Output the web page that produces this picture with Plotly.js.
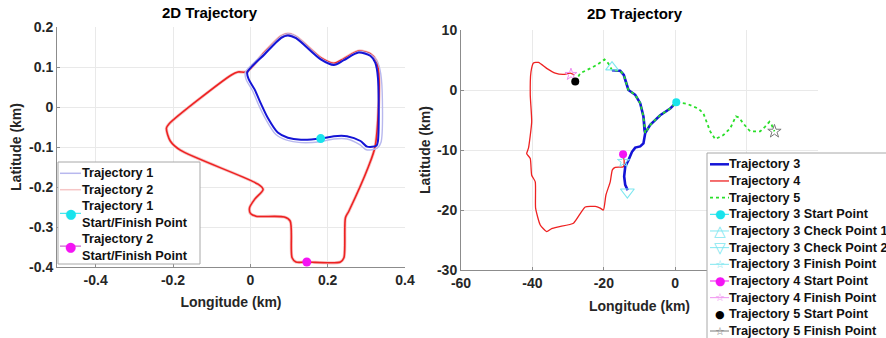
<!DOCTYPE html>
<html><head><meta charset="utf-8">
<script src="https://cdn.plot.ly/plotly-3.0.1.min.js"></script>
<style>html,body{margin:0;padding:0;background:#fff;} #chart{width:886px;height:338px;}</style>
</head><body><div id="chart"></div>
<script>
// ---------- Left panel data (km) ----------
const traj1Lon = [0.182, 0.131, 0.097, 0.071, 0.045, 0.028, 0.011, -0.004, -0.008, 0.037, 0.080, 0.097, 0.118, 0.182, 0.216, 0.242, 0.280, 0.310, 0.323, 0.330, 0.330, 0.326, 0.302, 0.285, 0.250, 0.216, 0.182];
const traj1Lat = [-0.079, -0.082, -0.077, -0.064, -0.027, 0.007, 0.044, 0.069, 0.086, 0.132, 0.173, 0.179, 0.172, 0.119, 0.105, 0.117, 0.136, 0.128, 0.111, 0.073, -0.085, -0.097, -0.099, -0.085, -0.073, -0.073, -0.079];
const traj1bLon = [0.180, 0.131, 0.094, 0.066, 0.040, 0.022, 0.005, -0.011, -0.013, 0.036, 0.080, 0.097, 0.120, 0.183, 0.217, 0.243, 0.281, 0.313, 0.330, 0.339, 0.338, 0.328, 0.300, 0.283, 0.250, 0.216, 0.180];
const traj1bLat = [-0.087, -0.089, -0.083, -0.069, -0.031, 0.004, 0.042, 0.069, 0.087, 0.135, 0.177, 0.183, 0.175, 0.121, 0.107, 0.119, 0.139, 0.130, 0.110, 0.070, -0.088, -0.103, -0.107, -0.094, -0.080, -0.080, -0.087];
const traj2Lon = [0.146, 0.233, 0.242, 0.246, 0.255, 0.305, 0.323, 0.333, 0.326, 0.310, 0.280, 0.242, 0.216, 0.182, 0.118, 0.097, 0.080, 0.036, -0.010, -0.032, -0.049, -0.211, -0.217, -0.207, -0.181, 0.020, 0.033, 0.011, -0.002, 0.001, 0.015, 0.088, 0.103, 0.108, 0.118, 0.146];
const traj2Lat = [-0.3875, -0.3875, -0.377, -0.277, -0.260, -0.150, -0.0975, 0.070, 0.115, 0.133, 0.140, 0.121, 0.109, 0.123, 0.176, 0.183, 0.177, 0.136, 0.088, 0.0875, 0.080, -0.043, -0.053, -0.085, -0.108, -0.193, -0.206, -0.231, -0.252, -0.267, -0.273, -0.275, -0.285, -0.377, -0.3875, -0.3875];
const start1Lon = [0.182], start1Lat = [-0.079];
const start2Lon = [0.146], start2Lat = [-0.3875];

// ---------- Right panel data (km) ----------
const traj3Lon = [0.3, -1.4, -4.2, -7.0, -8.4, -8.6, -8.9, -9.8, -11.2, -13.1, -14.0, -14.4, -15.4, -17.7, -15.4, -14.4, -13.1, -11.2, -9.8, -8.9, -8.6, -8.4, -8.9, -9.8, -11.2, -12.1, -13.1, -14.0, -14.3, -14.0, -13.3];
const traj3Lat = [-2.05, -3.1, -4.2, -5.8, -7.2, -6.7, -4.4, -2.2, -0.8, 0.0, 1.7, 2.5, 3.2, 3.3, 3.2, 2.5, 0.0, -0.8, -2.2, -4.4, -6.7, -7.2, -8.9, -9.4, -9.6, -10.3, -11.7, -12.8, -14.4, -15.8, -16.7];
const traj4Lon = [-14.6, -14.3, -14.5, -16.8, -17.6, -18.2, -19.4, -20.1, -21.0, -22.4, -25.2, -26.6, -28.5, -32.7, -34.6, -36.0, -37.8, -39.1, -39.2, -40.2, -40.6, -41.6, -41.1, -40.2, -40.6, -40.4, -39.7, -38.3, -36.0, -33.6, -31.3, -29.4, -28.2];
const traj4Lat = [-10.7, -11.8, -12.8, -12.9, -13.3, -15.3, -17.5, -20.0, -19.7, -19.4, -19.5, -20.6, -22.2, -22.8, -23.1, -23.6, -22.5, -19.7, -15.3, -14.2, -11.4, -10.6, -9.7, -5.3, -0.8, 3.0, 4.5, 4.6, 3.6, 2.8, 2.6, 2.8, 2.5];
const traj5Lon = [-28.0, -26.6, -23.8, -21.9, -19.8, -18.7, -17.7, -15.4, -14.4, -13.1, -11.2, -9.8, -8.9, -8.6, -8.4, -7.0, -4.2, -1.4, 0.3, 3.3, 6.5, 7.9, 8.9, 9.8, 11.2, 13.5, 15.4, 17.0, 17.9, 19.1, 21.0, 23.8, 25.2, 26.4, 27.0, 27.8];
const traj5Lat = [1.4, 2.8, 3.6, 4.2, 5.1, 4.4, 3.3, 3.2, 2.5, 0.0, -0.8, -2.2, -4.4, -6.7, -7.2, -5.8, -4.2, -3.1, -2.05, -2.3, -3.1, -3.9, -5.6, -6.9, -8.2, -7.5, -6.4, -4.4, -4.6, -5.6, -6.9, -6.9, -6.1, -5.3, -5.8, -6.9];
const t3StartLon = [0.3], t3StartLat = [-2.05];
const t3Cp1Lon = [-17.7], t3Cp1Lat = [3.8];
const t3Cp2Lon = [-13.4], t3Cp2Lat = [-17.0];
const t3FinLon = [-14.5], t3FinLat = [-11.9];
const t4StartLon = [-14.6], t4StartLat = [-10.7];
const t4FinLon = [-29.2], t4FinLat = [2.6];
const t5StartLon = [-28.0], t5StartLat = [1.4];
const t5FinLon = [27.8], t5FinLat = [-6.9];

// ---------- Ticks & labels ----------
const leftXTickVals = [-0.4, -0.2, 0, 0.2, 0.4];
const leftXTickText = ['-0.4', '-0.2', '0', '0.2', '0.4'];
const leftYTickVals = [-0.4, -0.3, -0.2, -0.1, 0, 0.1, 0.2];
const leftYTickText = ['-0.4', '-0.3', '-0.2', '-0.1', '0', '0.1', '0.2'];
const rightXTickVals = [-60, -40, -20, 0, 20, 40];
const rightXTickText = ['-60', '-40', '-20', '0', '', ''];   // 20 and 40 sit under the legend
const rightYTickVals = [-30, -20, -10, 0, 10];
const rightYTickText = ['-30', '-20', '-10', '0', '10'];
const panelTitle = '2D Trajectory';
const xTitle = 'Longitude (km)';
const yTitle = 'Latitude (km)';
const leftLegendNames = ['Trajectory 1', 'Trajectory 2', 'Trajectory 1<br>Start/Finish Point', 'Trajectory 2<br>Start/Finish Point'];
const rightLegendNames = ['Trajectory 3', 'Trajectory 4', 'Trajectory 5', 'Trajectory 3 Start Point', 'Trajectory 3 Check Point 1', 'Trajectory 3 Check Point 2', 'Trajectory 3 Finish Point', 'Trajectory 4 Start Point', 'Trajectory 4 Finish Point', 'Trajectory 5 Start Point', 'Trajectory 5 Finish Point'];

// ---------- Styles ----------
const W = 886, H = 338;
const px = v => v / W;
const py = v => 1 - v / H;
const FONT = 'Liberation Sans, Arial, Helvetica, sans-serif';
const GLYPH = 'DejaVu Sans, sans-serif';
const INK = '#262626';
const C = {blue: '#1414d6', lav: '#b8b8ee', red: '#ee2222', pink: '#f6c6c6', cyan: '#19e3ec', mag: '#f414f4',
           green: '#2adf2a', lcyan: '#7fe7f0', lpink: '#f090f0', black: '#000000', gray: '#7a7a7a'};

const sp = {shape: 'spline', smoothing: 0.8};
const traces = [
  {x: traj2Lon, y: traj2Lat, xaxis: 'x', yaxis: 'y', mode: 'lines', line: Object.assign({color: C.pink, width: 3.2}, sp)},
  {x: traj2Lon, y: traj2Lat, xaxis: 'x', yaxis: 'y', mode: 'lines', line: Object.assign({color: C.red, width: 1.6}, sp)},
  {x: traj1bLon, y: traj1bLat, xaxis: 'x', yaxis: 'y', mode: 'lines', line: Object.assign({color: C.lav, width: 1.4}, sp)},
  {x: traj1Lon, y: traj1Lat, xaxis: 'x', yaxis: 'y', mode: 'lines', line: Object.assign({color: C.blue, width: 2.0}, sp)},
  {x: start1Lon, y: start1Lat, xaxis: 'x', yaxis: 'y', mode: 'markers', marker: {color: C.cyan, size: 9}},
  {x: start2Lon, y: start2Lat, xaxis: 'x', yaxis: 'y', mode: 'markers', marker: {color: C.mag, size: 9}},

  {x: traj4Lon, y: traj4Lat, xaxis: 'x2', yaxis: 'y2', mode: 'lines', line: {color: C.red, width: 1.3, shape: 'spline', smoothing: 0.5}},
  {x: traj3Lon, y: traj3Lat, xaxis: 'x2', yaxis: 'y2', mode: 'lines', line: {color: C.blue, width: 2.6}},
  {x: traj5Lon, y: traj5Lat, xaxis: 'x2', yaxis: 'y2', mode: 'lines', line: {color: C.green, width: 1.8, dash: 'dot'}},
  {x: t3StartLon, y: t3StartLat, xaxis: 'x2', yaxis: 'y2', mode: 'markers', marker: {color: C.cyan, size: 8}},
  {x: t3Cp1Lon, y: t3Cp1Lat, xaxis: 'x2', yaxis: 'y2', mode: 'markers', marker: {symbol: 'triangle-up-open', color: C.lcyan, size: 11, line: {width: 1.2}}},
  {x: t3Cp2Lon, y: t3Cp2Lat, xaxis: 'x2', yaxis: 'y2', mode: 'markers', marker: {symbol: 'triangle-down-open', color: C.lcyan, size: 12, line: {width: 1.2}}},
  {x: t3FinLon, y: t3FinLat, xaxis: 'x2', yaxis: 'y2', mode: 'markers', marker: {symbol: 'star-open', color: C.lcyan, size: 9, line: {width: 1}}},
  {x: t4StartLon, y: t4StartLat, xaxis: 'x2', yaxis: 'y2', mode: 'markers', marker: {color: C.mag, size: 8}},
  {x: t4FinLon, y: t4FinLat, xaxis: 'x2', yaxis: 'y2', mode: 'markers', marker: {symbol: 'star-open', color: C.lpink, size: 9, line: {width: 1}}},
  {x: t5StartLon, y: t5StartLat, xaxis: 'x2', yaxis: 'y2', mode: 'markers', marker: {color: C.black, size: 8}},
  {x: t5FinLon, y: t5FinLat, xaxis: 'x2', yaxis: 'y2', mode: 'markers', marker: {symbol: 'star-open', color: C.gray, size: 10, line: {width: 1}}}
];

const tickFont = {family: FONT, size: 14, color: INK, weight: 'bold'};
const titleFont = {family: FONT, size: 14, color: INK, weight: 'bold'};
const axBase = {showgrid: true, gridcolor: '#e9e9e9', gridwidth: 1, zeroline: false, showline: true,
  linecolor: '#8c8c8c', linewidth: 1, ticks: 'inside', ticklen: 3, tickcolor: '#8c8c8c',
  tickfont: tickFont, tickmode: 'array', fixedrange: true, automargin: false};

const layout = {
  width: W, height: H, margin: {l: 0, r: 0, t: 0, b: 0, autoexpand: false},
  paper_bgcolor: '#ffffff', plot_bgcolor: '#ffffff', showlegend: false,
  font: {family: FONT, color: INK},
  xaxis: Object.assign({}, axBase, {domain: [px(57), px(405)], range: [-0.5, 0.4], anchor: 'y',
    tickvals: leftXTickVals, ticktext: leftXTickText, title: {text: xTitle, font: titleFont, standoff: 10}}),
  yaxis: Object.assign({}, axBase, {domain: [py(267), py(27)], range: [-0.4, 0.2], anchor: 'x',
    tickvals: leftYTickVals, ticktext: leftYTickText, title: {text: yTitle, font: titleFont, standoff: 4}}),
  xaxis2: Object.assign({}, axBase, {domain: [px(461), px(818)], range: [-60, 40], anchor: 'y2',
    tickvals: rightXTickVals, ticktext: rightXTickText, title: {text: xTitle, font: titleFont, standoff: 11}}),
  yaxis2: Object.assign({}, axBase, {domain: [py(270), py(30)], range: [-30, 10], anchor: 'x2',
    tickvals: rightYTickVals, ticktext: rightYTickText, title: {text: yTitle, font: titleFont, standoff: 3}}),
  annotations: [
    {text: panelTitle, xref: 'paper', yref: 'paper', x: px(210), y: py(13), xanchor: 'center', yanchor: 'middle', showarrow: false,
     font: {family: FONT, size: 15, color: '#000', weight: 'bold'}},
    {text: panelTitle, xref: 'paper', yref: 'paper', x: px(635), y: py(14), xanchor: 'center', yanchor: 'middle', showarrow: false,
     font: {family: FONT, size: 15, color: '#000', weight: 'bold'}}
  ],
  shapes: []
};

// ---------- Legends (drawn as boxes, sample strokes, glyphs and text) ----------
const legFont = {family: FONT, size: 12.7, color: '#111', weight: 'bold'};
function addLegend(box, rows, textX, sampleX0, sampleX1) {
  layout.shapes.push({type: 'rect', xref: 'paper', yref: 'paper', layer: 'above',
    x0: px(box[0]), x1: px(box[1]), y0: py(box[3]), y1: py(box[2]),
    fillcolor: '#ffffff', line: {color: '#a8a8a8', width: 1}});
  rows.forEach(r => {
    if (r.line) layout.shapes.push({type: 'line', xref: 'paper', yref: 'paper', layer: 'above',
      x0: px(sampleX0), x1: px(sampleX1), y0: py(r.y), y1: py(r.y), line: r.line});
    if (r.glyph) layout.annotations.push({text: r.glyph, xref: 'paper', yref: 'paper', showarrow: false,
      x: px((sampleX0 + sampleX1) / 2), y: py(r.y + (r.gdy || 0)), xanchor: 'center', yanchor: 'middle',
      font: {family: GLYPH, size: r.gsize, color: r.gcolor}});
    layout.annotations.push({text: r.name, xref: 'paper', yref: 'paper', showarrow: false, align: 'left',
      x: px(textX), y: py(r.ty), xanchor: 'left', yanchor: 'middle', font: legFont});
  });
}

// left legend
const lStep = 16.4, lTop = 173.3;
const leftStyles = [
  {line: {color: C.lav, width: 1.5}},
  {line: {color: C.pink, width: 1.5}},
  {line: {color: C.cyan, width: 1}, glyph: '●', gcolor: C.cyan, gsize: 13},
  {line: {color: '#c040c0', width: 1}, glyph: '●', gcolor: C.mag, gsize: 13}
];
let lineIdx = 0;
const leftRows = leftLegendNames.map((n, i) => {
  const nl = n.split('<br>').length;
  const center = lTop + lStep * (lineIdx + (nl - 1) / 2);
  lineIdx += nl;
  return Object.assign({name: n, ty: center, y: center + (nl > 1 ? -1 : 0)}, leftStyles[i]);
});
addLegend([58, 200, 162, 264], leftRows, 80, 60, 81);

// right legend
const rStep = 16.67, rTop = 164.3;
const rightStyles = [
  {line: {color: C.blue, width: 2.5}},
  {line: {color: C.red, width: 1.3}},
  {line: {color: C.green, width: 1.8, dash: 'dot'}},
  {line: {color: C.cyan, width: 1}, glyph: '●', gcolor: C.cyan, gsize: 12},
  {line: {color: C.lcyan, width: 1}, glyph: '△', gcolor: C.lcyan, gsize: 15},
  {line: {color: C.lcyan, width: 1}, glyph: '▽', gcolor: C.lcyan, gsize: 15},
  {line: {color: C.lcyan, width: 1}, glyph: '☆', gcolor: C.lcyan, gsize: 11},
  {line: {color: C.mag, width: 1}, glyph: '●', gcolor: C.mag, gsize: 12},
  {line: {color: C.lpink, width: 1}, glyph: '☆', gcolor: C.lpink, gsize: 11},
  {glyph: '●', gcolor: C.black, gsize: 11},
  {line: {color: C.gray, width: 1}, glyph: '☆', gcolor: C.gray, gsize: 11}
];
const rightRows = rightLegendNames.map((n, i) => Object.assign({name: n, ty: rTop + rStep * i, y: rTop + rStep * i}, rightStyles[i]));
addLegend([707, 900, 153, 345], rightRows, 727, 710, 729);

Plotly.newPlot('chart', traces, layout, {staticPlot: true, displayModeBar: false});
</script></body></html>
